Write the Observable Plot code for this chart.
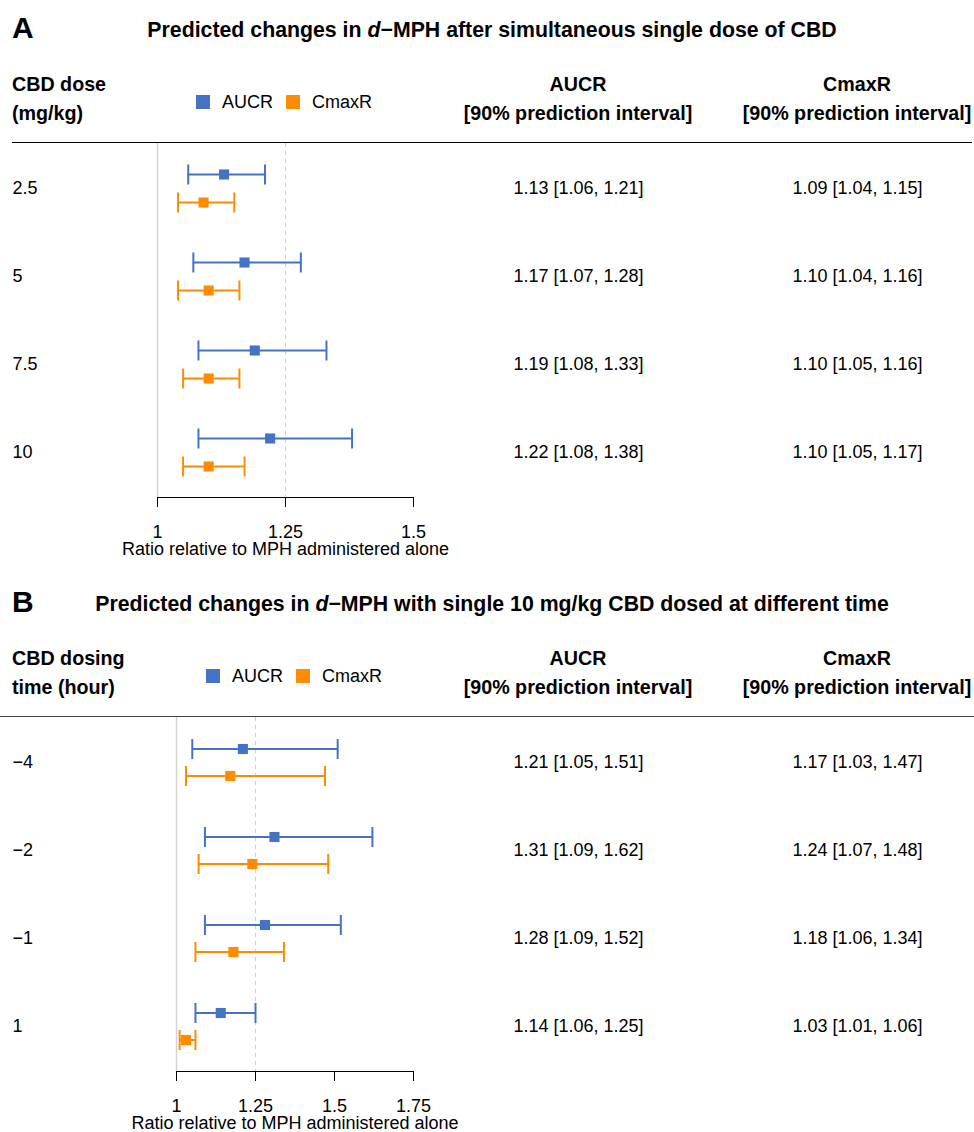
<!DOCTYPE html>
<html><head><meta charset="utf-8">
<script src="https://cdn.jsdelivr.net/npm/d3@7"></script>
<script src="https://cdn.jsdelivr.net/npm/@observablehq/plot@0.6"></script>
<style>
html,body{margin:0;padding:0;overflow:hidden;background:#fff;}
body{font-family:"Liberation Sans",Arial,Helvetica,sans-serif;color:#000;width:974px;}
.panel{position:relative;width:974px;height:574px;}
.letter{position:absolute;left:12px;top:13px;font-size:30px;line-height:30px;font-weight:bold;}
.title{position:absolute;left:10px;width:964px;top:20px;text-align:center;font-size:21.3px;line-height:21px;font-weight:bold;}
.hdr{position:absolute;top:70px;font-size:19.7px;line-height:29px;font-weight:bold;}
.hdr.c{text-align:center;width:300px;}
.legend{position:absolute;top:91px;height:22px;display:flex;align-items:center;font-size:18px;}
.legend .sw{width:14px;height:14px;display:inline-block;margin-right:12px;}
.legend .it{display:flex;align-items:center;margin-right:13px;}
.rule{position:absolute;top:142px;height:1.3px;}
</style>
</head><body>
<div id="root"></div>
<script>
// ---------- data ----------
const seriesNames = ["AUCR", "CmaxR"];
const seriesColors = ["#4472C4", "#FF8C00"];

// Panel A: simultaneous single dose of CBD
const rowsA = ["2.5", "5", "7.5", "10"];
const aucrA = [1.13, 1.17, 1.19, 1.22];
const aucrLoA = [1.06, 1.07, 1.08, 1.08];
const aucrHiA = [1.21, 1.28, 1.33, 1.38];
const cmaxA = [1.09, 1.10, 1.10, 1.10];
const cmaxLoA = [1.04, 1.04, 1.05, 1.05];
const cmaxHiA = [1.15, 1.16, 1.16, 1.17];
const ticksA = [1, 1.25, 1.5];

// Panel B: single 10 mg/kg CBD dosed at different time
const rowsB = ["\u22124", "\u22122", "\u22121", "1"];
const aucrB = [1.21, 1.31, 1.28, 1.14];
const aucrLoB = [1.05, 1.09, 1.09, 1.06];
const aucrHiB = [1.51, 1.62, 1.52, 1.25];
const cmaxB = [1.17, 1.24, 1.18, 1.03];
const cmaxLoB = [1.03, 1.07, 1.06, 1.01];
const cmaxHiB = [1.47, 1.48, 1.34, 1.06];
const ticksB = [1, 1.25, 1.5, 1.75];

const axisTitle = "Ratio relative to MPH administered alone";
const colHeads = ["AUCR", "CmaxR"];
const colSub = "[90% prediction interval]";

// ---------- helpers ----------
const FONT = '"Liberation Sans", Arial, Helvetica, sans-serif';
const fmt = d3.format(".2f");
const vbar = {draw(ctx, size) { const h = Math.sqrt(size / Math.PI); ctx.moveTo(0, -h); ctx.lineTo(0, h); }};

function table(rows, v, lo, hi) {
  return rows.map((row, i) => ({row, v: v[i], lo: lo[i], hi: hi[i]}));
}

function panel(cfg) {
  const div = document.createElement("div");
  div.className = "panel";
  div.innerHTML = `
    <div class="letter">${cfg.letter}</div>
    <div class="title">${cfg.title}</div>
    <div class="hdr" style="left:12px">${cfg.rowHead}</div>
    <div class="hdr c" style="left:${578 - 150}px">${colHeads[0]}<br>${colSub}</div>
    <div class="hdr c" style="left:${857 - 150}px">${colHeads[1]}<br>${colSub}</div>
    <div class="legend" style="left:${cfg.legendLeft}px">${seriesNames.map((s, i) =>
      `<span class="it"><span class="sw" style="background:${seriesColors[i]}"></span>${s}</span>`).join("")}</div>
    <div class="rule" style="left:${cfg.ruleLeft}px;width:${cfg.ruleWidth}px;background:${cfg.ruleColor}"></div>`;

  const H = 431, frameH = 354, ml = cfg.marginLeft, mr = 561;
  const series = [
    {data: table(cfg.rows, cfg.aucr, cfg.aucrLo, cfg.aucrHi), color: seriesColors[0], dy: -cfg.off},
    {data: table(cfg.rows, cfg.cmax, cfg.cmaxLo, cfg.cmaxHi), color: seriesColors[1], dy: cfg.off}
  ];
  const marks = [
    Plot.ruleX([1], {stroke: "#d4d4d4", strokeWidth: 1.5}),
    Plot.ruleX([1.25], {stroke: "#d0d0d0", strokeWidth: 1, strokeDasharray: "4,4"}),
    Plot.frame({anchor: "bottom", stroke: "#000"}),
    Plot.axisX({ticks: cfg.ticks, tickSize: 10, tickPadding: 18, tickFormat: d => String(d), fontSize: 18, label: null}),
    Plot.text([axisTitle], {frameAnchor: "bottom", dy: 57, fontSize: 18}),
    Plot.text(cfg.rows, {y: d => d, text: d => d, frameAnchor: "left", textAnchor: "start", dx: 12 - ml, fontSize: 18})
  ];
  series.forEach((s, k) => {
    marks.push(
      Plot.ruleY(s.data, {y: "row", x1: "lo", x2: "hi", dy: s.dy, stroke: s.color, strokeWidth: 2}),
      Plot.dot(s.data, {x: "lo", y: "row", dy: s.dy, symbol: vbar, r: 10, stroke: s.color, strokeWidth: 2, fill: "none"}),
      Plot.dot(s.data, {x: "hi", y: "row", dy: s.dy, symbol: vbar, r: 10, stroke: s.color, strokeWidth: 2, fill: "none"}),
      Plot.dot(s.data, {x: "v", y: "row", dy: s.dy, symbol: "square", r: 5.7, fill: s.color, stroke: "none"}),
      // table value, centred on the row between the two series
      Plot.text(s.data, {y: "row", text: d => `${fmt(d.v)} [${fmt(d.lo)}, ${fmt(d.hi)}]`,
        frameAnchor: "left", textAnchor: "middle", dx: [578, 857][k] - ml, fontSize: 18})
    );
  });
  const plot = Plot.plot({
    width: 974, height: H,
    marginTop: 0, marginBottom: H - frameH, marginLeft: ml, marginRight: mr,
    x: {domain: [1, cfg.ticks[cfg.ticks.length - 1]], nice: false},
    y: {type: "point", domain: cfg.rows, padding: 0.5, axis: null},
    style: {fontFamily: FONT, fontSize: "18px", color: "#000", background: "transparent", overflow: "visible"},
    marks
  });
  plot.style.position = "absolute";
  plot.style.left = "0px";
  plot.style.top = "143px";
  div.appendChild(plot);
  return div;
}

const root = document.getElementById("root");
root.appendChild(panel({
  letter: "A",
  title: "Predicted changes in <i>d</i>\u2212MPH after simultaneous single dose of CBD",
  rowHead: "CBD dose<br>(mg/kg)",
  legendLeft: 196, ruleLeft: 12, ruleWidth: 960, ruleColor: "#000",
  rows: rowsA, aucr: aucrA, aucrLo: aucrLoA, aucrHi: aucrHiA,
  cmax: cmaxA, cmaxLo: cmaxLoA, cmaxHi: cmaxHiA,
  ticks: ticksA, marginLeft: 157, off: 14
}));
root.appendChild(panel({
  letter: "B",
  title: "Predicted changes in <i>d</i>\u2212MPH with single 10 mg/kg CBD dosed at different time",
  rowHead: "CBD dosing<br>time (hour)",
  legendLeft: 206, ruleLeft: 0, ruleWidth: 974, ruleColor: "#444",
  rows: rowsB, aucr: aucrB, aucrLo: aucrLoB, aucrHi: aucrHiB,
  cmax: cmaxB, cmaxLo: cmaxLoB, cmaxHi: cmaxHiB,
  ticks: ticksB, marginLeft: 176, off: 13.5
}));
</script>
</body></html>
